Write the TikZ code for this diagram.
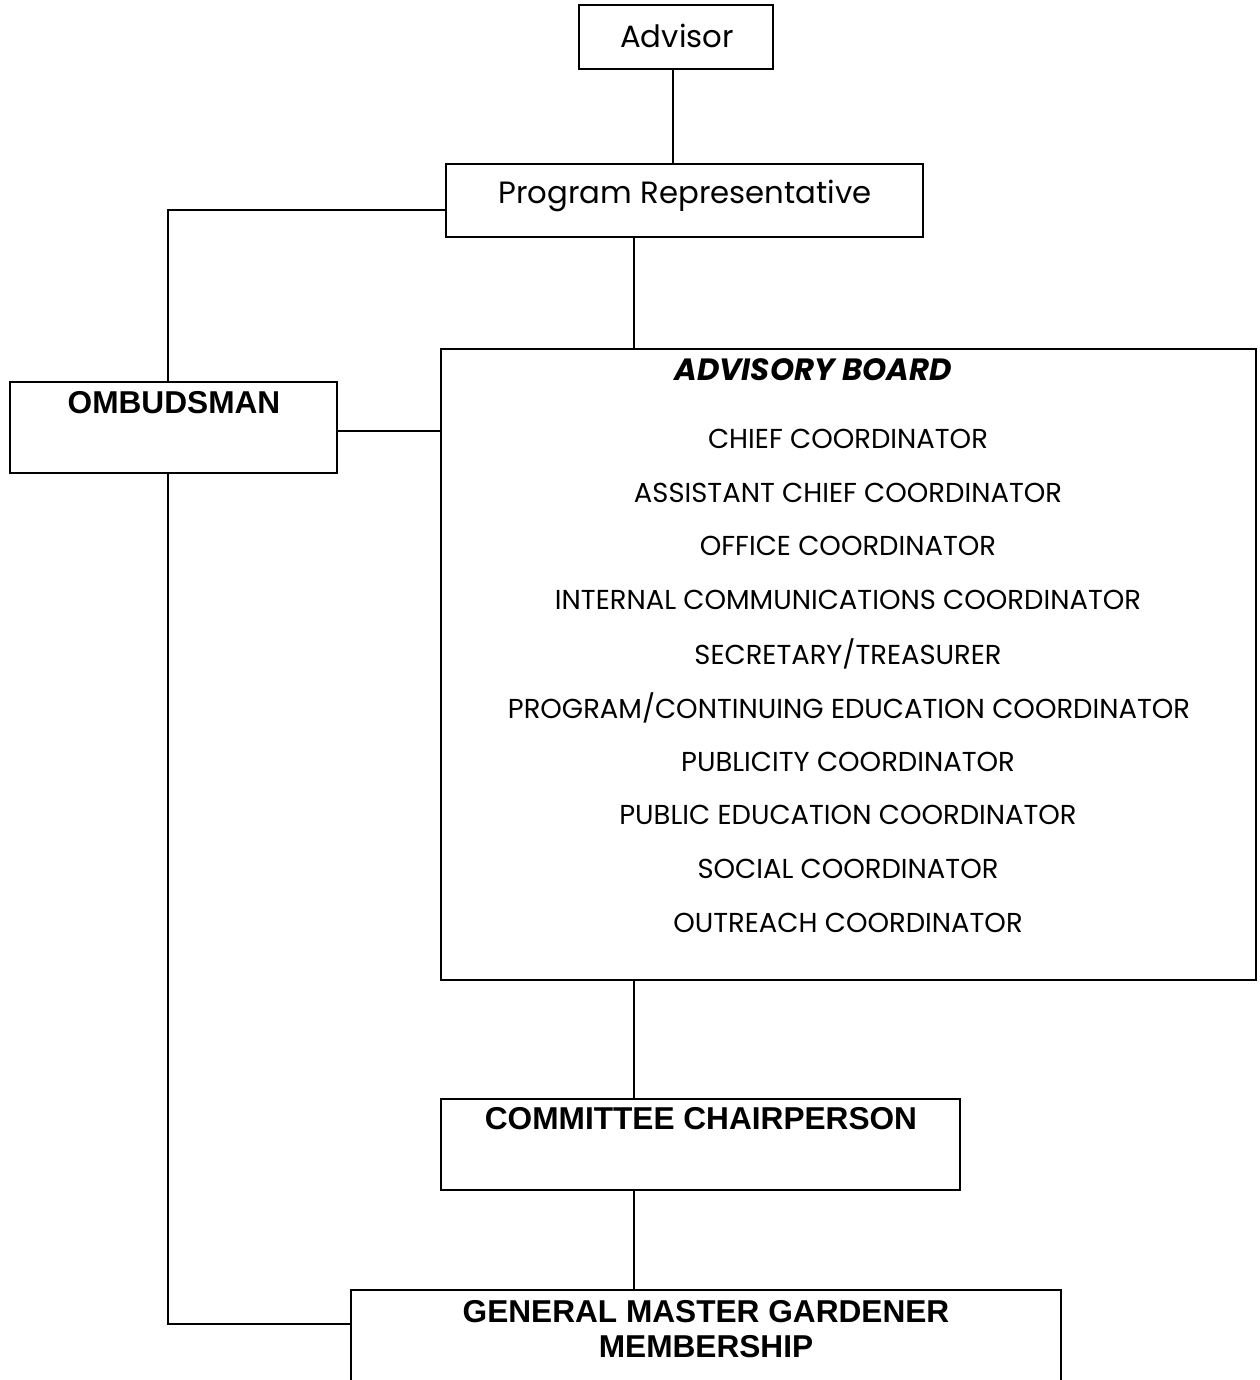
\documentclass[tikz,border=0pt]{standalone}
\usepackage{fontspec}
\setmainfont{Poppins}
\newfontfamily\arialf{Liberation Sans}
\usetikzlibrary{fit}
\begin{document}
\begin{tikzpicture}[x=0.02cm,y=-0.02cm,
  box/.style={draw=black,line width=1.1pt,inner sep=0pt,rectangle},
  conn/.style={draw=black,line width=1.1pt},
  gothic/.style={font=\fontsize{17.5}{20}\selectfont,inner sep=0pt},
  item/.style={font=\fontsize{15.6}{18}\selectfont,inner sep=0pt},
  arialbold/.style={font=\arialf\bfseries\fontsize{18}{20}\selectfont,inner sep=0pt,align=center}]
\clip (0,0) rectangle (1260,1380);
\fill[white] (0,0) rectangle (1260,1380);
% boxes
\node[box,fit={(579,5) (773,69)}] (advisor) {};
\node[box,fit={(446,164) (923,237)}] (progrep) {};
\node[box,fit={(10,382) (337,473)}] (omb) {};
\node[box,fit={(441,349) (1256,980)}] (board) {};
\node[box,fit={(441,1099) (960,1190)}] (comm) {};
\node[box,fit={(351,1290) (1061,1400)}] (gmg) {};
% texts
\node[gothic] (tadv) at (677,36) {Advisor};
\node[gothic] (tprog) at (685,196) {Program Representative};
\node[arialbold] (tomb) at (174,403) {OMBUDSMAN};
\node[font=\fontsize{17.5}{20}\selectfont\bfseries\itshape,inner sep=0pt] (tboard) at (813,370) {ADVISORY BOARD};
\node[item] (i1) at (848,439) {CHIEF COORDINATOR};
\node[item] (i2) at (848,493) {ASSISTANT CHIEF COORDINATOR};
\node[item] (i3) at (848,546) {OFFICE COORDINATOR};
\node[item] (i4) at (848,600) {INTERNAL COMMUNICATIONS COORDINATOR};
\node[item] (i5) at (848,654) {SECRETARY/TREASURER};
\node[item] (i6) at (849,708) {PROGRAM/CONTINUING EDUCATION COORDINATOR};
\node[item] (i7) at (848,762) {PUBLICITY COORDINATOR};
\node[item] (i8) at (848,815) {PUBLIC EDUCATION COORDINATOR};
\node[item] (i9) at (848,869) {SOCIAL COORDINATOR};
\node[item] (i10) at (848,923) {OUTREACH COORDINATOR};
\node[arialbold] (tcomm) at (701,1119) {COMMITTEE CHAIRPERSON};
\node[arialbold] (tgmg) at (706,1329) {GENERAL MASTER GARDENER\\MEMBERSHIP};
% helper coordinates
\coordinate (xA) at (673,0);
\coordinate (xM) at (634,0);
\coordinate (xL) at (168,0);
\coordinate (yA) at (0,210);
\coordinate (yB) at (0,431);
\coordinate (yC) at (0,1324);
% connectors
\draw[conn] (advisor.south -| xA) -- (progrep.north -| xA);
\draw[conn] (progrep.south -| xM) -- (board.north -| xM);
\draw[conn] (progrep.west |- yA) -| (omb.north -| xL);
\draw[conn] (omb.east |- yB) -- (board.west |- yB);
\draw[conn] (omb.south -| xL) |- (gmg.west |- yC);
\draw[conn] (board.south -| xM) -- (comm.north -| xM);
\draw[conn] (comm.south -| xM) -- (gmg.north -| xM);
\end{tikzpicture}
\end{document}
